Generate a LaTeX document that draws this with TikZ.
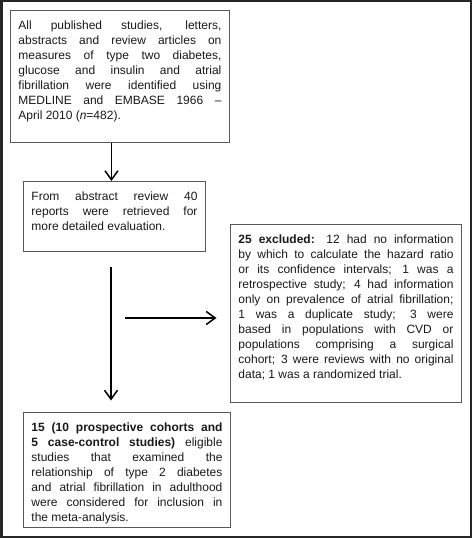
\documentclass[tikz,border=0pt]{standalone}
\usepackage{fontspec}
\setmainfont{Liberation Sans}
\usetikzlibrary{arrows.meta,positioning}
\hyphenpenalty=10000
\exhyphenpenalty=10000
\tolerance=9999

\begin{document}
\begin{tikzpicture}[
    x=1bp, y=-1bp,
    box/.style={draw=black!65, line width=0.9bp, anchor=north west,
      align=justify, inner xsep=8bp, inner ysep=9bp, text height=9.6bp,
      text=black!90, font=\fontsize{12bp}{15bp}\selectfont},
    arr/.style={-{Straight Barb[length=9bp,width=13bp]}, line width=1.5bp},
  ]
  \useasboundingbox (0,0) rectangle (472,538);

  % Outer frame
  \draw[black!85, line width=2.4bp] (1.3,1.3) rectangle (470.7,536.8);

  % Search
  \node[box, text width=203bp, text depth=104.4bp] (search) at (10,10)
    {All published studies, letters,\linebreak
     abstracts and review articles on\linebreak
     measures of type two diabetes,\linebreak
     glucose and insulin and atrial\linebreak
     fibrillation were identified using\linebreak
     MEDLINE and EMBASE 1966 --\linebreak
     April 2010 (\textit{n}=482).};

  % Abstract review
  \node[box, text width=166bp, text depth=42.4bp] (review) at (23,181)
    {From abstract review 40\linebreak
     reports were retrieved for\linebreak
     more detailed evaluation.};

  % Excluded
  \node[box, text width=215bp, text depth=150.4bp] (excluded) at (230,224)
    {\textbf{25 excluded:} 12 had no information\linebreak
     by which to calculate the hazard ratio\linebreak
     or its confidence intervals; 1 was a\linebreak
     retrospective study; 4 had information\linebreak
     only on prevalence of atrial fibrillation;\linebreak
     1 was a duplicate study; 3 were\linebreak
     based in populations with CVD or\linebreak
     populations comprising a surgical\linebreak
     cohort; 3 were reviews with no original\linebreak
     data; 1 was a randomized trial.};

  % Included
  \node[box, text width=191bp, text depth=87.4bp] (included) at (23,412)
    {\textbf{15 (10 prospective cohorts and\linebreak
     5 case-control studies)} eligible\linebreak
     studies that examined the\linebreak
     relationship of type 2 diabetes\linebreak
     and atrial fibrillation in adulthood\linebreak
     were considered for inclusion in\linebreak
     the meta-analysis.};

  % Arrows
  \draw[arr] ([xshift=-3bp]review.north |- search.south)
    -- ([xshift=-3bp]review.north);

  \coordinate (trunk) at (111,267);
  \coordinate (trunkend) at (111,400.5);
  \coordinate (branch) at (125,318);
  \coordinate (branchend) at (216.5,318);
  \draw[arr] (trunk) -- (trunkend);
  \draw[arr] (branch) -- (branchend);

\end{tikzpicture}
\end{document}
